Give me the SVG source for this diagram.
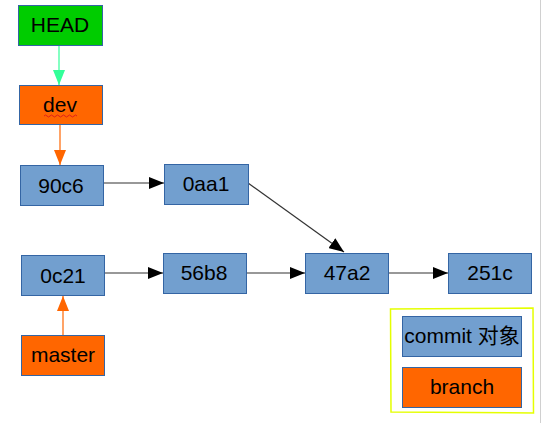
<svg xmlns="http://www.w3.org/2000/svg" width="541" height="423" viewBox="0 0 541 423">
<style>
.commit{fill:#729fcf;stroke:#3465a4;stroke-width:1}
.branch{fill:#ff6600;stroke:#3465a4;stroke-width:1}
.head{fill:#00cc00;stroke:#3465a4;stroke-width:1}
text{font-family:"Liberation Sans",Arial,sans-serif;font-size:21px;fill:#000;text-anchor:middle}
.cjk{font-family:"Liberation Sans","Noto Sans CJK SC",sans-serif}
.link{stroke:#333;stroke-width:1.2;fill:none}
</style>
<defs>
<marker id="ab" markerUnits="userSpaceOnUse" markerWidth="16" markerHeight="12" refX="15" refY="6" orient="auto"><path d="M0,0 L15,6 L0,12 Z" fill="#000"/></marker>
<marker id="ag" markerUnits="userSpaceOnUse" markerWidth="16" markerHeight="12" refX="15" refY="6" orient="auto"><path d="M0,0 L15,6 L0,12 Z" fill="#33ff99"/></marker>
<marker id="ao" markerUnits="userSpaceOnUse" markerWidth="16" markerHeight="12" refX="15" refY="6" orient="auto"><path d="M0,0 L15,6 L0,12 Z" fill="#ff6600"/></marker>
</defs>
<rect width="541" height="423" fill="#fff"/>
<line x1="540.5" y1="0" x2="540.5" y2="423" stroke="#d0d0d0" stroke-width="1"/>
<g id="connectors">
<line x1="59" y1="45" x2="59" y2="85" stroke="#33ff99" stroke-width="1.2" marker-end="url(#ag)"/>
<line x1="60" y1="124" x2="60" y2="165" stroke="#ff6600" stroke-width="1.2" marker-end="url(#ao)"/>
<line x1="63" y1="335" x2="63" y2="296" stroke="#ff6600" stroke-width="1.2" marker-end="url(#ao)"/>
<line class="link" x1="103" y1="183" x2="164" y2="183" marker-end="url(#ab)"/>
<line class="link" x1="248" y1="183" x2="344" y2="252" marker-end="url(#ab)"/>
<line class="link" x1="104" y1="273" x2="163" y2="273" marker-end="url(#ab)"/>
<line class="link" x1="246" y1="273" x2="305" y2="273" marker-end="url(#ab)"/>
<line class="link" x1="388" y1="273" x2="448" y2="273" marker-end="url(#ab)"/>
</g>
<g id="HEAD"><rect class="head" x="18.5" y="5.5" width="84" height="40"/><text x="60" y="32">HEAD</text></g>
<g id="dev"><rect class="branch" x="19.5" y="85.5" width="83" height="39"/><text x="60" y="112">dev</text>
<path d="M44,116 q1.5,-2 3,0 t3,0 t3,0 t3,0 t3,0 t3,0 t3,0 t3,0 t3,0 t3,0 t3,0" fill="none" stroke="#e0201a" stroke-width="1"/></g>
<g id="c90c6"><rect class="commit" x="20.5" y="165.5" width="83" height="40"/><text x="61" y="193">90c6</text></g>
<g id="c0aa1"><rect class="commit" x="164.5" y="164.5" width="84" height="40"/><text x="206" y="191">0aa1</text></g>
<g id="c0c21"><rect class="commit" x="21.5" y="255.5" width="83" height="40"/><text x="63" y="283">0c21</text></g>
<g id="master"><rect class="branch" x="21.5" y="335.5" width="83" height="40"/><text x="63" y="362">master</text></g>
<g id="c56b8"><rect class="commit" x="163.5" y="253.5" width="83" height="40"/><text x="204" y="280">56b8</text></g>
<g id="c47a2"><rect class="commit" x="305.5" y="253.5" width="83" height="40"/><text x="347" y="280">47a2</text></g>
<g id="c251c"><rect class="commit" x="448.5" y="253.5" width="83" height="40"/><text x="490" y="280">251c</text></g>
<g id="legend">
<polygon points="390.5,309 533,308 533.5,413 391,412" fill="none" stroke="#e5ff00" stroke-width="1.5"/>
<rect class="commit" x="402.5" y="316.5" width="119" height="40"/><text class="cjk" x="462" y="343">commit 对象</text>
<rect class="branch" x="402.5" y="367.5" width="119" height="40"/><text x="462" y="394">branch</text>
</g>
</svg>
